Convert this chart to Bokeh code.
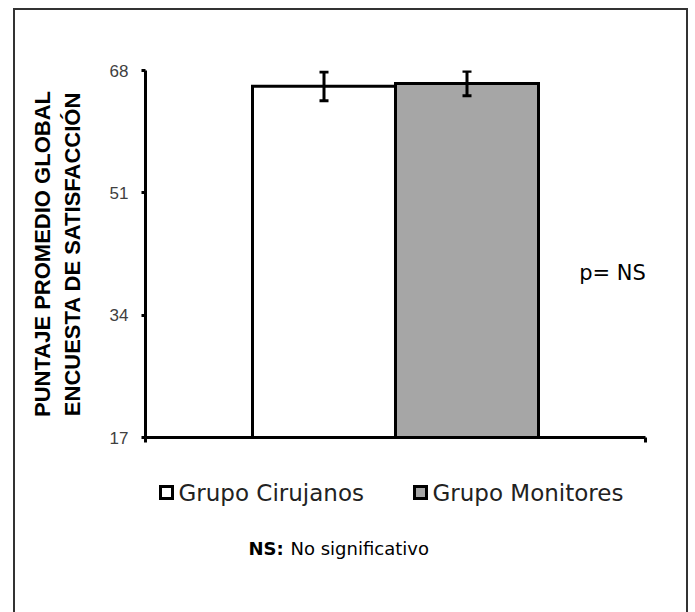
from bokeh.plotting import figure
from bokeh.layouts import column
from bokeh.models import (Range1d, ColumnDataSource, Whisker, TeeHead, FixedTicker, Label)
from bokeh.core.properties import value
from bokeh.embed import file_html
from bokeh.resources import INLINE

groups = ["Grupo Cirujanos", "Grupo Monitores"]
means = [65.8, 66.2]
errors = [2.0, 1.7]
colors = ["#ffffff", "#a6a6a6"]
y_ticks = [17, 34, 51, 68]

bar_w = 0.286
xs = [0.5 - bar_w / 2 + i * bar_w for i in range(len(groups))]

src = ColumnDataSource(dict(
    x=xs, top=means, color=colors, name=groups,
    upper=[m + e for m, e in zip(means, errors)],
    lower=[m - e for m, e in zip(means, errors)],
))

W = 671
p = figure(width=W, height=450, output_backend="svg", toolbar_location=None,
           x_range=Range1d(0, 1), y_range=Range1d(17, 68),
           min_border_left=130, min_border_right=41, min_border_top=60, min_border_bottom=23)
p.outline_line_color = None
p.grid.visible = False

r = p.vbar(x="x", top="top", bottom=17, width=bar_w, source=src,
           fill_color="color", line_color="black", line_width=3, line_join="miter")

w = Whisker(base="x", upper="upper", lower="lower", source=src, level="overlay",
            line_color="black", line_width=3,
            upper_head=TeeHead(size=9, line_width=3, line_color="black"),
            lower_head=TeeHead(size=9, line_width=3, line_color="black"))
p.add_layout(w)

p.add_layout(Label(x=0.934, y=39.9, text="p= NS", text_font="DejaVu Sans",
                   text_font_size="21px", text_color="black",
                   text_align="center", text_baseline="middle"))

# y axis
ya = p.yaxis[0]
ya.ticker = FixedTicker(ticks=y_ticks)
ya.axis_line_width = 3
ya.axis_line_color = "black"
ya.major_tick_line_width = 3
ya.major_tick_out = 4
ya.major_tick_in = 0
ya.minor_tick_line_color = None
ya.major_label_text_font = "Liberation Sans"
ya.major_label_text_font_size = "17px"
ya.major_label_text_color = "#404040"
ya.major_label_standoff = 13
ya.axis_label = "PUNTAJE PROMEDIO GLOBAL\nENCUESTA DE SATISFACCIÓN"
ya.axis_label_text_font = "Liberation Sans"
ya.axis_label_text_font_style = "bold"
ya.axis_label_text_font_size = "22px"
ya.axis_label_text_color = "black"
ya.axis_label_standoff = 22

# x axis
xa = p.xaxis[0]
xa.ticker = FixedTicker(ticks=[0, 1])
xa.axis_line_width = 3
xa.axis_line_color = "black"
xa.major_tick_line_width = 3
xa.major_tick_out = 5
xa.major_tick_in = 0
xa.minor_tick_line_color = None
xa.major_label_text_font_size = "0px"
xa.major_label_text_alpha = 0

# lower panel: legend and note, coordinates in page pixels (y downward)
q = figure(width=W, height=152, output_backend="svg", toolbar_location=None,
           x_range=Range1d(145, 645), y_range=Range1d(612, 460),
           min_border_left=130, min_border_right=41,
           min_border_top=0, min_border_bottom=0)
q.axis.visible = False
q.grid.visible = False
q.outline_line_color = None

leg_x = [166, 420]
leg_y = [492, 492]
lsrc = ColumnDataSource(dict(x=leg_x, y=leg_y, color=colors, name=groups,
                             tx=[lx + 12 for lx in leg_x]))
q.rect(x="x", y="y", width=12, height=12, source=lsrc, fill_color="color",
       line_color="black", line_width=3, line_join="miter")
q.text(x="tx", y="y", text="name", source=lsrc, text_font=value("DejaVu Sans"),
       text_font_size="23px", text_color="#222222", text_baseline="middle",
       text_align="left")

q.add_layout(Label(x=248, y=548, text="NS:", text_font="DejaVu Sans",
                   text_font_style="bold", text_font_size="18px", text_color="black",
                   text_align="left", text_baseline="middle"))
q.add_layout(Label(x=290, y=548, text="No significativo", text_font="DejaVu Sans",
                   text_font_size="18px", text_color="black",
                   text_align="left", text_baseline="middle"))

layout = column(p, q, spacing=0, styles={
    "margin-left": "13px", "margin-top": "8px",
    "border-left": "2px solid #333333", "border-top": "2px solid #333333",
    "border-right": "2px solid #333333"})

open("out.html", "w").write(file_html(layout, INLINE))
